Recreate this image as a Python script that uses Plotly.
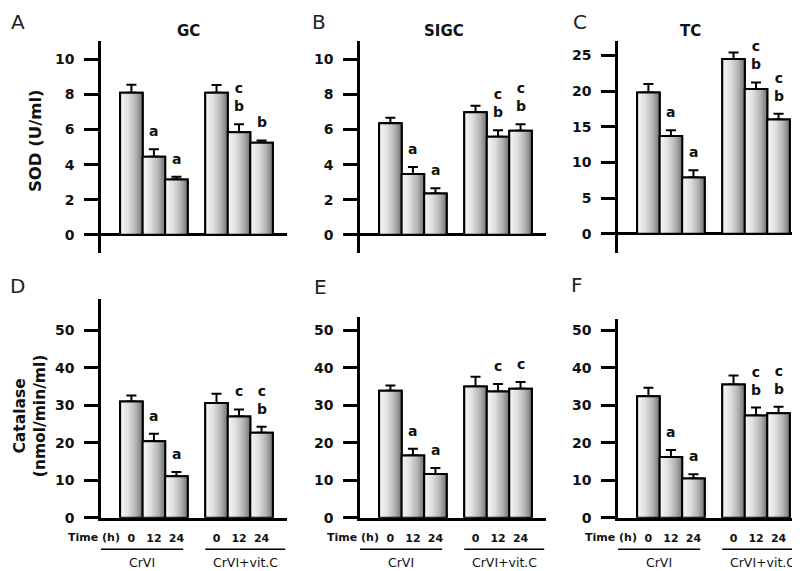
import plotly.graph_objects as go

# ---------------- data ----------------
times = ["0", "12", "24"]
groups = ["CrVI", "CrVI+vit.C"]
tissues = ["GC", "SIGC", "TC"]
panel_letters = ["A", "B", "C", "D", "E", "F"]

sod_gc = [8.1, 4.45, 3.15, 8.1, 5.85, 5.25]
sod_gc_err = [0.45, 0.43, 0.16, 0.43, 0.45, 0.13]
sod_gc_sig = ["", "a", "a", "", "c<br>b", "b"]

sod_sigc = [6.35, 3.46, 2.35, 6.98, 5.59, 5.93]
sod_sigc_err = [0.32, 0.41, 0.30, 0.37, 0.37, 0.37]
sod_sigc_sig = ["", "a", "a", "", "c<br>b", "c<br>b"]

sod_tc = [19.8, 13.7, 7.9, 24.5, 20.3, 16.0]
sod_tc_err = [1.2, 0.8, 1.0, 0.9, 0.9, 0.8]
sod_tc_sig = ["", "a", "a", "", "c<br>b", "c<br>b"]

cat_gc = [31.0, 20.4, 11.1, 30.6, 27.0, 22.7]
cat_gc_err = [1.6, 2.0, 1.1, 2.5, 1.9, 1.6]
cat_gc_sig = ["", "a", "a", "", "c", "c<br>b"]

cat_sigc = [33.9, 16.6, 11.7, 35.0, 33.7, 34.4]
cat_sigc_err = [1.4, 1.8, 1.6, 2.6, 2.0, 1.8]
cat_sigc_sig = ["", "a", "a", "", "c", "c"]

cat_tc = [32.4, 16.2, 10.5, 35.6, 27.3, 27.9]
cat_tc_err = [2.3, 1.9, 1.1, 2.4, 2.1, 1.7]
cat_tc_sig = ["", "a", "a", "", "c<br>b", "c<br>b"]

sod_ticks = [0, 2, 4, 6, 8, 10]
sod_tc_ticks = [0, 5, 10, 15, 20, 25]
cat_ticks = [0, 10, 20, 30, 40, 50]

# ---------------- layout helpers ----------------
W, H = 800, 571
FONT = "DejaVu Sans"


def px(x):
    return x / W


def py(y):
    return 1 - y / H


positions = [0, 1, 2, 3.78, 4.78, 5.78]
XR = [-1.35, 6.91]
col_px = [(93, 279), (352, 538), (610, 796)]
top_px = (33, 248)
bottom_tops = [295, 313, 315]
BOTTOM = 517

panels = [
    dict(v=sod_gc, e=sod_gc_err, s=sod_gc_sig, ticks=sod_ticks, yr=[-1.01, 11.07]),
    dict(v=sod_sigc, e=sod_sigc_err, s=sod_sigc_sig, ticks=sod_ticks, yr=[-1.01, 11.07]),
    dict(v=sod_tc, e=sod_tc_err, s=sod_tc_sig, ticks=sod_tc_ticks, yr=[-2.62, 27.07]),
    dict(v=cat_gc, e=cat_gc_err, s=cat_gc_sig, ticks=cat_ticks, yr=[0, (BOTTOM - bottom_tops[0]) / 3.8]),
    dict(v=cat_sigc, e=cat_sigc_err, s=cat_sigc_sig, ticks=cat_ticks, yr=[0, (BOTTOM - bottom_tops[1]) / 3.8]),
    dict(v=cat_tc, e=cat_tc_err, s=cat_tc_sig, ticks=cat_ticks, yr=[0, (BOTTOM - bottom_tops[2]) / 3.8]),
]

grad = [[0, "#f8f8f8"], [0.35, "#e0e0e0"], [0.7, "#b3b3b3"], [1, "#727272"]]

fig = go.Figure()
layout = dict(
    width=W, height=H, autosize=False,
    margin=dict(l=0, r=0, t=0, b=0, pad=0),
    paper_bgcolor="white", plot_bgcolor="white",
    showlegend=False,
)
annotations = []
shapes = []

for i, p in enumerate(panels):
    n = i + 1
    xa = "x" if n == 1 else f"x{n}"
    ya = "y" if n == 1 else f"y{n}"
    row = i // 3
    col = i % 3

    # error bars + outlines via bar trace (bar layer, below gradients)
    fig.add_trace(go.Bar(
        x=positions, y=p["v"], width=1,
        marker=dict(color="rgba(0,0,0,0)", line=dict(color="black", width=2)),
        error_y=dict(type="data", symmetric=False, array=p["e"],
                     arrayminus=[0] * len(p["e"]), color="black",
                     thickness=2, width=5),
        xaxis=xa, yaxis=ya, hoverinfo="y",
    ))
    # gradient-filled bar bodies
    for c, v in zip(positions, p["v"]):
        fig.add_trace(go.Scatter(
            x=[c - 0.5, c - 0.5, c + 0.5, c + 0.5, c - 0.5],
            y=[0, v, v, 0, 0],
            mode="lines", fill="toself",
            fillgradient=dict(type="horizontal", colorscale=grad),
            line=dict(color="black", width=2),
            xaxis=xa, yaxis=ya, hoverinfo="skip",
        ))

    x0, x1 = col_px[col]
    if row == 0:
        yt, yb = top_px
    else:
        yt, yb = bottom_tops[col], BOTTOM

    xaxis = dict(domain=[px(x0), px(x1)], range=XR, anchor=ya,
                 showgrid=False, zeroline=False, fixedrange=True)
    yaxis = dict(domain=[py(yb), py(yt)], range=p["yr"], anchor=xa,
                 showgrid=False, showline=True, linewidth=2.5, linecolor="black",
                 ticks="outside", ticklen=14, tickwidth=2.5, tickcolor="black",
                 tickvals=p["ticks"], ticklabelstandoff=7,
                 tickfont=dict(family=FONT, size=14, color="#111", weight="bold"),
                 fixedrange=True)
    if row == 0:
        xaxis.update(showline=False, showticklabels=False, ticks="")
        yaxis.update(zeroline=True, zerolinecolor="black", zerolinewidth=2.5)
    else:
        xaxis.update(showline=True, linewidth=2.5, linecolor="black", ticks="",
                     tickvals=positions, ticktext=times * 2, ticklabelstandoff=8,
                     tickfont=dict(family=FONT, size=11, color="#111", weight="bold"))
        yaxis.update(zeroline=False)
        # "Time (h)" label
        annotations.append(dict(
            x=positions[0] - 0.42, y=py(537), xref=xa, yref="paper",
            text="Time (h)", showarrow=False, xanchor="right", yanchor="middle",
            font=dict(family=FONT, size=11, color="#111", weight="bold")))
        # group underlines and labels
        spans = [(XR[0], positions[2] + 0.3), (positions[3] - 0.5, XR[1] - 0.08)]
        for (sa, sb), g in zip(spans, groups):
            shapes.append(dict(type="line", xref=xa, yref="paper",
                               x0=sa, x1=sb, y0=py(549), y1=py(549),
                               line=dict(color="black", width=1.5)))
            annotations.append(dict(
                x=(sa + sb) / 2, y=py(562), xref=xa, yref="paper",
                text=g, showarrow=False, xanchor="center", yanchor="middle",
                font=dict(family=FONT, size=12.5, color="#111")))

    layout[f"xaxis{n}" if n > 1 else "xaxis"] = xaxis
    layout[f"yaxis{n}" if n > 1 else "yaxis"] = yaxis

    # significance letters
    for c, v, e, s in zip(positions, p["v"], p["e"], p["s"]):
        if s:
            annotations.append(dict(
                x=c, y=v + e, xref=xa, yref=ya, text=s, showarrow=False,
                xanchor="center", yanchor="bottom", yshift=8,
                font=dict(family=FONT, size=14, color="#111", weight="bold")))

# panel letters
letter_pos = [(10, 14), (311, 14), (572, 14), (9, 282), (312, 283), (569, 281)]
for L, (lx, ly) in zip(panel_letters, letter_pos):
    annotations.append(dict(x=px(lx), y=py(ly), xref="paper", yref="paper",
                            text=L, showarrow=False, xanchor="center", yanchor="middle",
                            font=dict(family=FONT, size=20, color="#222")))

# tissue titles
title_pos = [(180, 23), (436, 23), (682, 23)]
for t, (tx, ty) in zip(tissues, title_pos):
    annotations.append(dict(x=px(tx), y=py(ty), xref="paper", yref="paper",
                            text=t, showarrow=False, xanchor="center", yanchor="middle",
                            font=dict(family=FONT, size=15, color="#111", weight="bold")))

# y-axis titles
annotations.append(dict(x=px(27), y=py(135), xref="paper", yref="paper",
                        text="SOD (U/ml)", textangle=-90, showarrow=False,
                        xanchor="center", yanchor="middle",
                        font=dict(family=FONT, size=16.5, color="#111", weight="bold")))
annotations.append(dict(x=px(22), y=py(414), xref="paper", yref="paper",
                        text="Catalase<br>(nmol/min/ml)", textangle=-90, showarrow=False,
                        xanchor="center", yanchor="middle",
                        font=dict(family=FONT, size=15.5, color="#111", weight="bold")))

layout["annotations"] = annotations
layout["shapes"] = shapes
fig.update_layout(**layout)
fig.write_html("out.html")
